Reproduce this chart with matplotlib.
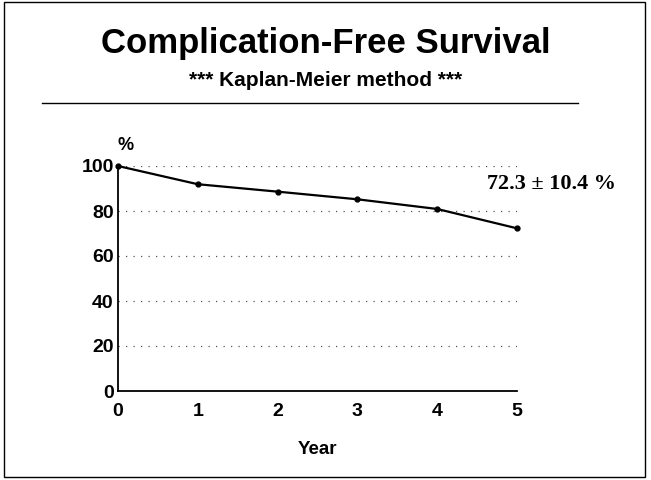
import matplotlib
matplotlib.use("Agg")
import matplotlib.pyplot as plt
from matplotlib.lines import Line2D
from matplotlib.patches import Rectangle

# Kaplan-Meier estimate
years = [0, 1, 2, 3, 4, 5]
survival = [100, 91.9, 88.6, 85.2, 80.9, 72.3]
y_ticks = [0, 20, 40, 60, 80, 100]
x_ticks = [0, 1, 2, 3, 4, 5]

title = "Complication-Free Survival"
subtitle = "*** Kaplan-Meier method ***"
final_label = "72.3 \u00b1 10.4 %"

plt.rcParams['font.family'] = ['Liberation Sans', 'DejaVu Sans']
plt.rcParams['font.weight'] = 'bold'

fig = plt.figure(figsize=(6.51, 4.80), dpi=100)
ax = fig.add_axes([118 / 651, 1 - 391 / 480, 399 / 651, 225 / 480])

ax.plot(years, survival, color='black', lw=1.6, marker='o', ms=3.5,
        clip_on=False, zorder=3)

ax.set_xlim(0, 5)
ax.set_ylim(0, 100)
ax.set_xticks(x_ticks)
ax.set_yticks(y_ticks)
ax.tick_params(axis='both', length=0, labelsize=14)
ax.tick_params(axis='x', pad=9)
ax.tick_params(axis='y', pad=3)
for lab in ax.get_xticklabels() + ax.get_yticklabels():
    lab.set_fontweight('bold')

ax.grid(axis='y', color='#555555', linestyle=(0, (1, 5)), lw=0.9)
ax.set_axisbelow(True)
for side in ['top', 'right']:
    ax.spines[side].set_visible(False)
for side in ['left', 'bottom']:
    ax.spines[side].set_linewidth(1.3)

ax.set_xlabel("Year", fontsize=13.5, fontweight='bold', labelpad=15)
ax.text(0.0, 1.09, "%", transform=ax.transAxes, fontsize=13,
        fontweight='bold', ha='left', va='center')

# label for the last estimate
ax.annotate(final_label, xy=(years[-1], survival[-1]), xytext=(25, 32),
            textcoords='offset points', ha='center', va='center',
            fontsize=16, fontweight='bold', family='Liberation Serif')

fig.text(0.5, 1 - 43 / 480, title, ha='center', va='center',
         fontsize=25, fontweight='bold')
fig.text(0.5, 1 - 81 / 480, subtitle, ha='center', va='center',
         fontsize=15, fontweight='bold')
fig.add_artist(Line2D([42 / 651, 578 / 651], [1 - 103 / 480, 1 - 103 / 480],
                      color='black', lw=1.0))
fig.add_artist(Rectangle((4 / 651, 3 / 480), 641 / 651, 475 / 480,
                         fill=False, edgecolor='black', lw=1.0))

fig.savefig("out.png", dpi=100)
